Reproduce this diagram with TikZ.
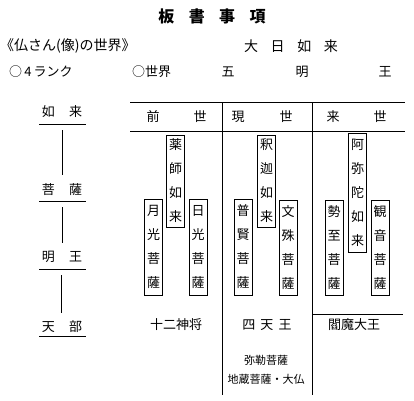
\documentclass[tikz,border=0pt]{standalone}
\usepackage{fontspec}
\setmainfont{Noto Sans CJK JP}
\begin{document}
\begin{tikzpicture}[x=1pt,y=-1pt,
  txt/.style={inner sep=0pt, font=\fontsize{13}{13}\selectfont},
  small/.style={inner sep=0pt, font=\fontsize{11}{11}\selectfont},
  vbox/.style={draw, line width=0.7pt, inner sep=0pt, minimum width=18pt, align=center,
    font=\fontsize{13}{24}\selectfont},
  rule/.style={line width=0.8pt},
  link/.style={line width=0.6pt}]
\useasboundingbox (0,0) rectangle (414,400);
% title
\node[inner sep=0pt, font=\fontsize{16}{16}\selectfont\bfseries] (title) at (212,16) {板\hspace{0.9em}書\hspace{0.9em}事\hspace{0.9em}項};
\node[txt, anchor=west, font=\fontsize{14}{14}\selectfont] (world) at (0,46) {《仏さん(像)の世界》\kern-0.45em};
\node[txt, font=\fontsize{14}{14}\selectfont] (dainichi) at (291,46) {大\hspace{0.9em}日\hspace{0.9em}如\hspace{0.9em}来};
\node[txt, anchor=west] (rank) at (9,72) {○\,4\,ランク};
\node[txt, anchor=west] (sekai) at (132,72) {○世界};
\node[txt] (go) at (228,72) {五};
\node[txt] (myo) at (302,72) {明};
\node[txt] (o) at (385,72) {王};
% left ranks
\node[txt] (r1) at (62,112) {如\hspace{1.1em}来};
\node[txt] (r2) at (62,190) {菩\hspace{1.1em}薩};
\node[txt] (r3) at (62,257) {明\hspace{1.1em}王};
\node[txt] (r4) at (62,327) {天\hspace{1.1em}部};
\draw[rule] (39,124) -- (86,124);
\draw[rule] (39,201) -- (86,201);
\draw[rule] (39,269) -- (86,269);
\draw[rule] (39,336) -- (86,336);
\coordinate (l1a) at (62,130); \coordinate (l1b) at (62,175);
\coordinate (l2a) at (62,207); \coordinate (l2b) at (62,243);
\coordinate (l3a) at (61,275); \coordinate (l3b) at (61,313);
\draw[link] (l1a) -- (l1b);
\draw[link] (l2a) -- (l2b);
\draw[link] (l3a) -- (l3b);
% table lines
\draw[rule] (130,102) -- (405,102);
\draw[rule] (130,131) -- (405,131);
\draw[rule] (222,102) -- (222,395);
\draw[rule] (312,102) -- (312,395);
\draw[rule] (312,314) -- (403,314);
% headers
\node[txt] (h1a) at (153,117) {前};
\node[txt] (h1b) at (200,117) {世};
\node[txt] (h2a) at (238,117) {現};
\node[txt] (h2b) at (286,117) {世};
\node[txt] (h3a) at (333,117) {来};
\node[txt] (h3b) at (380,117) {世};
% vertical boxes
\node[vbox, minimum height=92pt] (yakushi) at (175.5,181) {薬\\師\\如\\来};
\node[vbox, minimum height=96pt] (gakko) at (153.5,247) {月\\光\\菩\\薩};
\node[vbox, minimum height=96pt] (nikko) at (198,247) {日\\光\\菩\\薩};
\node[vbox, minimum height=96pt] (fugen) at (243,247) {普\\賢\\菩\\薩};
\node[vbox, minimum height=92pt] (shaka) at (266.5,181) {釈\\迦\\如\\来};
\node[vbox, minimum height=95pt] (monju) at (288,247.5) {文\\殊\\菩\\薩};
\node[vbox, minimum height=95pt] (seishi) at (334,247.5) {勢\\至\\菩\\薩};
\node[vbox, minimum height=119pt] (amida) at (357.5,192.5) {阿\\弥\\陀\\如\\来};
\node[vbox, minimum height=95pt] (kannon) at (380,247.5) {観\\音\\菩\\薩};
% bottom
\node[txt] (juni) at (176,325) {十二神将};
\node[txt] (shiten) at (267,325) {四\hspace{0.4em}天\hspace{0.4em}王};
\node[txt] (enma) at (354,325) {閻魔大王};
\node[small] (miroku) at (266,360) {弥勒菩薩};
\node[small] (jizo) at (266,379) {地蔵菩薩・大仏};
\end{tikzpicture}
\end{document}
